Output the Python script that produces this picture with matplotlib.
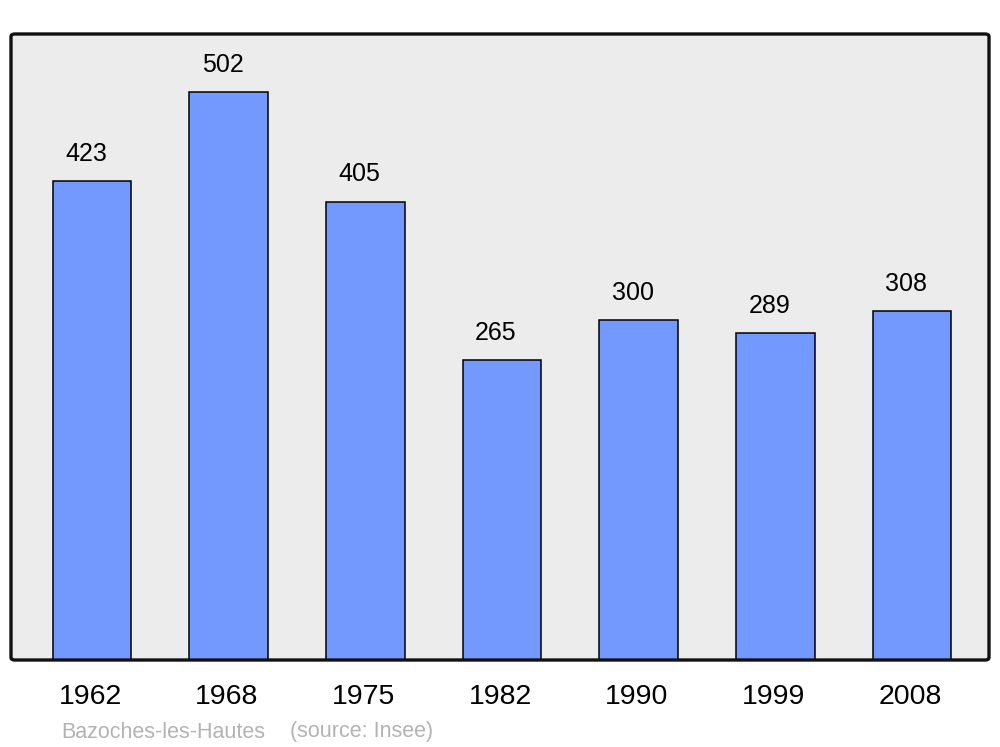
import numpy as np
import matplotlib.pyplot as plt
import matplotlib.transforms as mtransforms
from matplotlib.patches import FancyBboxPatch

# Data
YEARS = ['1962', '1968', '1975', '1982', '1990', '1999', '2008']
POPULATION = [423, 502, 405, 265, 300, 289, 308]
COMMUNE = 'Bazoches-les-Hautes'
SOURCE = '(source: Insee)'

BAR_COLOR = '#7399ff'
BG_COLOR = '#ececec'

plt.rcParams['font.family'] = ['Liberation Sans', 'DejaVu Sans']

fig = plt.figure(figsize=(10, 7.47), dpi=100)
ax = fig.add_axes([0.011, 87 / 747, 0.978, 626 / 747])
ax.set_facecolor(BG_COLOR)

x = np.arange(len(YEARS))
bars = ax.bar(x, POPULATION, width=0.575, color=BAR_COLOR, edgecolor='black', linewidth=1.1, zorder=2)

for xi, v in zip(x, POPULATION):
    ax.text(xi - 0.045, v + 24, str(v), ha='center', va='center', fontsize=18)

ax.set_xlim(-0.593, 6.563)
ax.set_ylim(0, 553)
ax.set_yticks([])
ax.set_xticks(x)
ax.set_xticklabels(YEARS, fontsize=20.5)
ax.tick_params(axis='x', length=0, pad=17)
shift = mtransforms.ScaledTranslation(-2 / 100, 0, fig.dpi_scale_trans)
for lbl in ax.get_xticklabels():
    lbl.set_transform(lbl.get_transform() + shift)

# Rounded frame around the plot
for s in ax.spines.values():
    s.set_visible(False)
frame = FancyBboxPatch((0, 0), 1, 1, boxstyle='round,pad=0,rounding_size=0.004',
                       transform=ax.transAxes, facecolor='none', edgecolor='#111111',
                       linewidth=2.4, clip_on=False, zorder=3)
ax.add_patch(frame)

fig.text(0.061, 1 - 732 / 747, COMMUNE, color='#b3b3b3', fontsize=15.5, va='center', ha='left')
fig.text(0.290, 1 - 732 / 747, SOURCE, color='#b3b3b3', fontsize=15.5, va='center', ha='left')

fig.savefig('out.png', dpi=100)
